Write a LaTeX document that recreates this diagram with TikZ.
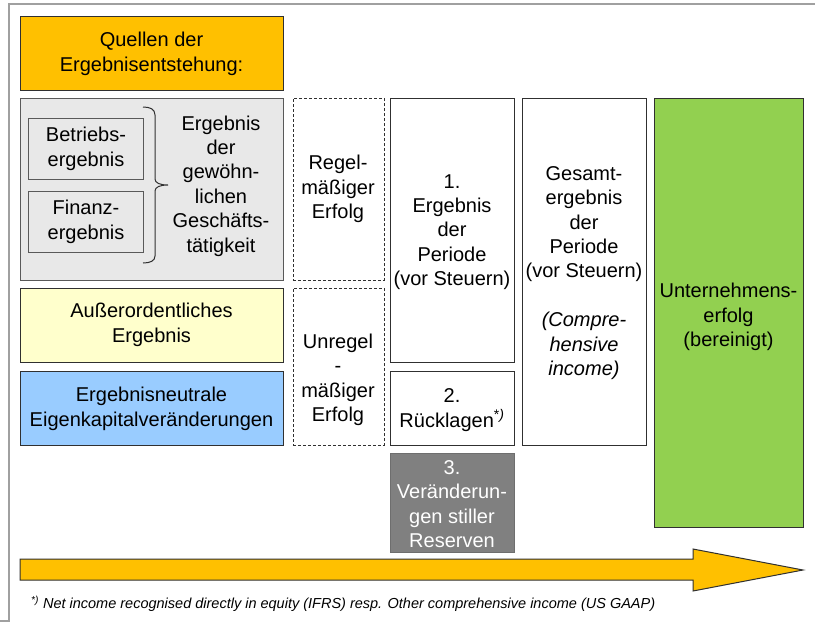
\documentclass[tikz,border=0pt]{standalone}
\usepackage{fontspec}
\setmainfont{Liberation Sans}
\definecolor{gold}{HTML}{FFC000}
\definecolor{lgray}{HTML}{E8E8E8}
\definecolor{lyellow}{HTML}{FFFFCC}
\definecolor{lblue}{HTML}{99CCFF}
\definecolor{dgray}{HTML}{808080}
\definecolor{lgreen}{HTML}{92D050}
\definecolor{framegray}{HTML}{A0A0A0}
\definecolor{edge}{HTML}{303030}
\begin{document}
\begin{tikzpicture}[x=1pt,y=-1pt,
  box/.style={draw=edge, line width=1pt, inner sep=0pt, anchor=north west},
  dbox/.style={box, dash pattern=on 3pt off 2pt, line width=0.8pt},
  txt/.style={align=center, font=\fontsize{20}{24.4}\selectfont, inner sep=0pt, text=black},
]
\useasboundingbox (0,0) rectangle (815,625);
% frame
\draw[framegray, line width=2pt] (0,621) -- (8.5,621) -- (8.5,4) -- (815,4);

% left column
\node[box, fill=gold, minimum width=263pt, minimum height=74pt] (q) at (20,16) {};
\node[txt] (qt) at (151.5,54) {Quellen der\\Ergebnisentstehung:};

\node[box, fill=lgray, draw=edge!80, minimum width=263pt, minimum height=182pt] (gb) at (20,98) {};
\node[box, fill=lgray, draw=edge!80, minimum width=115pt, minimum height=61pt] (be) at (28,118) {};
\node[txt] (bet) at (be.center) {Betriebs-\\ergebnis};
\node[box, fill=lgray, draw=edge!80, minimum width=115pt, minimum height=61pt] (fe) at (28,191) {};
\node[txt] (fet) at (fe.center) {Finanz-\\ergebnis};
\node[txt] (egt) at (221,186) {Ergebnis\\der\\gewöhn-\\lichen\\Geschäfts-\\tätigkeit};
\draw[edge, line width=1pt] (143,107) .. controls (150,107) and (155,109) .. (155,115) -- (155,179)
  .. controls (155,183) and (160,185) .. (168,185)
  .. controls (160,185) and (155,187) .. (155,191) -- (155,256)
  .. controls (155,261) and (150,263) .. (143,263);

\node[box, fill=lyellow, minimum width=263pt, minimum height=74pt] (ao) at (20,288) {};
\node[txt] (aot) at (151.5,325) {Außerordentliches\\Ergebnis};
\node[box, fill=lblue, minimum width=263pt, minimum height=74pt] (en) at (20,371) {};
\node[txt] (ent) at (151.5,409) {Ergebnisneutrale\\Eigenkapitalveränderungen};

% dashed column
\node[dbox, minimum width=91pt, minimum height=182pt] (reg) at (292.5,98) {};
\node[txt] (regt) at (338,189) {Regel-\\mäßiger\\Erfolg};
\node[dbox, minimum width=91pt, minimum height=157pt] (unr) at (292.5,288) {};
\node[txt] (unrt) at (338,380) {Unregel\\-\\mäßiger\\Erfolg};

% periods
\node[box, minimum width=124pt, minimum height=264pt] (p1) at (390,98) {};
\node[txt] (p1t) at (452,232) {1.\\Ergebnis\\der\\Periode\\(vor Steuern)};
\node[box, minimum width=124pt, minimum height=74pt] (p2) at (390,371) {};
\node[txt] (p2t) at (452,410) {2.\\Rücklagen\textsuperscript{*\itshape)}};
\node[box, fill=dgray, draw=edge!70, minimum width=124pt, minimum height=99pt] (p3) at (390,453) {};
\node[txt, text=white] (p3t) at (452,504) {3.\\Veränderun-\\gen stiller\\Reserven};

\node[box, minimum width=124pt, minimum height=347pt] (ge) at (522,98) {};
\node[txt] (get) at (584,273) {Gesamt-\\ergebnis\\der\\Periode\\(vor Steuern)\\[24.4pt]{\itshape (Compre-}\\{\itshape hensive}\\{\itshape income)}};

\node[box, fill=lgreen, minimum width=149pt, minimum height=429pt] (gr) at (654,98) {};
\node[txt] (grt) at (728.5,317) {Unternehmens-\\erfolg\\(bereinigt)};

% arrow
\draw[fill=gold, draw=edge, line width=1pt, line join=miter] (20,559) -- (693,559) -- (693,549) -- (803,570) -- (693,591) -- (693,580) -- (20,580) -- cycle;

% footnote
\node[anchor=west, inner sep=0pt, font=\itshape\fontsize{14.5}{17}\selectfont] (fn) at (31,604) {\textsuperscript{*)} Net income recognised directly in equity (IFRS) resp. Other comprehensive income (US GAAP)};
\end{tikzpicture}
\end{document}
